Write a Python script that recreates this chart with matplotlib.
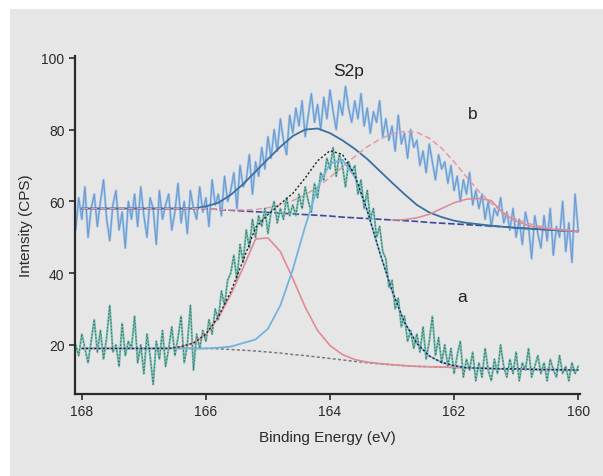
import numpy as np
import matplotlib.pyplot as plt
from matplotlib.patches import Rectangle

plt.rcParams['font.family'] = ['Liberation Sans', 'DejaVu Sans']

# measured spectra, 168.10 -> 160.00 eV in 0.05 eV steps
energy = np.round(np.arange(168.10, 159.999, -0.05), 2)

spec_b = [52, 61, 55, 64, 50, 58, 62, 53, 60, 66,
          55, 49, 59, 63, 52, 57, 47, 60, 55, 62,
          53, 64, 56, 50, 61, 58, 48, 63, 55, 59,
          62, 52, 57, 65, 54, 60, 51, 63, 58, 55,
          64, 57, 61, 53, 66, 59, 62, 56, 67, 60,
          63, 68, 58, 70, 64, 66, 73, 62, 71, 67,
          75, 69, 78, 72, 80, 74, 83, 77, 73, 84,
          79, 86, 81, 88, 78, 84, 90, 82, 87, 80,
          89, 83, 91, 85, 80, 88, 84, 92, 86, 82,
          88, 83, 90, 81, 86, 79, 85, 82, 88, 78,
          83, 77, 81, 74, 84, 76, 79, 72, 80, 75,
          77, 70, 74, 68, 76, 71, 66, 73, 69, 71,
          65, 70, 63, 67, 60, 66, 62, 68, 59, 63,
          58, 62, 55, 60, 53, 58, 56, 61, 54, 57,
          52, 58, 50, 55, 48, 57, 53, 44, 56, 51,
          47, 56, 49, 58, 45, 53, 50, 60, 46, 54,
          43, 62, 52]

spec_a = [20, 17, 23, 19, 15, 21, 27, 18, 24, 16,
          22, 31, 18, 20, 14, 26, 17, 21, 19, 28,
          15, 20, 12, 23, 17, 9, 21, 16, 24, 14,
          19, 25, 17, 22, 28, 15, 20, 31, 13, 23,
          19, 24, 21, 27, 23, 30, 27, 35, 31, 38,
          40, 45, 38, 48, 43, 52, 47, 55, 50, 56,
          53, 58, 51, 57, 60, 54, 58, 55, 61, 56,
          59, 56, 62, 58, 64, 60, 57, 65, 61, 68,
          66, 72, 69, 75, 67, 73, 70, 64, 71, 68,
          70, 62, 66, 58, 63, 55, 58, 50, 53, 46,
          44, 36, 38, 30, 33, 25, 28, 21, 24, 19,
          23, 18, 25, 16, 21, 28, 17, 22, 15, 20,
          14, 19, 12, 17, 21, 11, 16, 13, 18, 10,
          15, 11, 19, 13, 10, 16, 12, 20, 14, 11,
          16, 12, 18, 10, 15, 13, 19, 11, 14, 17,
          12, 15, 10, 16, 13, 11, 17, 12, 14, 10,
          15, 12, 14]

# fitted curves, 168.0 -> 160.0 eV in 0.2 eV steps
fit_energy = np.round(np.arange(168.0, 159.999, -0.2), 1)

base_a = [19.0] * 11 + [18.9, 18.7, 18.5, 18.3, 18.0, 17.7, 17.3, 17.0, 16.6, 16.2,
                        15.8, 15.4, 15.0, 14.7, 14.4, 14.2, 14.0, 13.9, 13.8, 13.7,
                        13.6, 13.5, 13.4, 13.3, 13.3, 13.2, 13.1, 13.1, 13.0, 13.0]
peak_a1 = [19.0] * 8 + [19.5, 20.5, 23.0, 27.5, 34.0, 41.5, 49.5, 49.8, 46.0, 38.5,
                        30.5, 24.0, 19.8, 17.3, 15.9, 15.2, 14.8, 14.5,
                        14.2, 14.0, 13.9, 13.8, 13.7,
                        13.6, 13.5, 13.4, 13.3, 13.3, 13.2, 13.1, 13.1, 13.0, 13.0]
peak_a2 = [19.0] * 11 + [19.2, 19.5, 20.5, 21.5, 24.5, 31.0, 41.0, 53.0, 63.9, 70.5,
                         71.6, 66.8, 57.3, 45.8, 35.0, 26.3, 20.4, 16.9, 15.1, 14.2,
                         13.6, 13.5, 13.4, 13.3, 13.3, 13.2, 13.1, 13.1, 13.0, 13.0]
env_a = [19.0] * 8 + [19.5, 20.5, 23.0, 27.8, 34.8, 43.5, 52.7, 56.3, 59.3, 62.2,
                      66.5, 71.3, 74.1, 73.1, 67.3, 57.5, 45.9, 35.1, 26.3, 20.4,
                      16.9, 15.1, 14.2,
                      13.6, 13.5, 13.4, 13.3, 13.3, 13.2, 13.1, 13.1, 13.0, 13.0]

base_b = [58.0] * 11 + [57.7, 57.5, 57.3, 57.1, 56.9, 56.7, 56.5, 56.3, 56.1, 55.9,
                        55.6, 55.4, 55.2, 55.0, 54.8, 54.6, 54.4, 54.1, 53.9, 53.7,
                        53.5, 53.3, 53.1, 52.9, 52.6, 52.4, 52.2, 52.0, 51.8, 51.6]
peak_b1 = [58.0] * 10 + [58.6, 59.6, 61.8, 64.8, 68.3, 71.8, 75.2, 78.2, 80.0, 80.3,
                         79.0, 77.0, 74.6, 71.8, 68.5, 65.2, 62.0, 59.0, 56.9, 55.6,
                         54.6, 54.0, 53.6, 53.2,
                         52.9, 52.6, 52.4, 52.2, 52.0, 51.8, 51.6]
peak_b2 = [58.0] * 11 + [57.7, 57.6, 57.6, 57.7, 58.2, 59.0, 60.2, 61.8, 64.0, 66.7,
                         69.6, 72.5, 75.2, 77.3, 78.8, 79.5, 79.2, 77.6, 74.8, 71.0,
                         66.8, 62.8, 59.4, 56.8, 55.0, 53.8, 53.0, 52.4, 51.9, 51.6]
b3_energy = fit_energy[25:]
peak_b3 = [54.8, 54.9, 55.4, 56.4, 58.0, 59.6, 60.6, 60.8, 60.2, 56.5,
           54.5, 53.2, 52.6, 52.2, 51.9, 51.6]

fig = plt.figure(figsize=(6.03, 4.77), dpi=100)
fig.patch.set_facecolor('#e6e6e6')
# white strips along the left and top edge of the picture
fig.add_artist(Rectangle((0, 0), 10 / 603, 1, transform=fig.transFigure,
                         facecolor='white', edgecolor='none', zorder=-5))
fig.add_artist(Rectangle((0, 1 - 10 / 477), 1, 10 / 477, transform=fig.transFigure,
                         facecolor='white', edgecolor='none', zorder=-5))
ax = fig.add_axes([0.1244, 0.1719, 0.8375, 0.7086])
ax.set_facecolor('none')

# spectrum b
ax.plot(energy, spec_b, color='#95c6ea', lw=1.7)
ax.plot(energy, spec_b, color='#4a5aa8', lw=0.7, alpha=0.45)
ax.plot(fit_energy, base_b, color='#3b4a9a', lw=1.2, ls=(0, (4, 1.5)))
ax.plot(fit_energy, peak_b1, color='#3a6fa0', lw=1.3)
ax.plot(fit_energy, peak_b2, color='#e39aa6', lw=1.1, ls=(0, (4, 2)))
ax.plot(b3_energy, peak_b3, color='#d98a98', lw=1.1)

# spectrum a
ax.plot(energy, spec_a, color='#78c4b6', lw=1.5)
ax.plot(energy, spec_a, color='#1e2626', lw=0.8, alpha=0.5, ls=(0, (1.5, 1.5)))
ax.plot(fit_energy, base_a, color='#7a7a80', lw=1.1, ls=(0, (2, 1.5)))
ax.plot(fit_energy, peak_a1, color='#e08b98', lw=1.2)
ax.plot(fit_energy, peak_a2, color='#72b4dc', lw=1.3)
ax.plot(fit_energy, env_a, color='#222222', lw=1.0, ls=(0, (1.5, 1.5)))

ax.text(163.7, 96.4, 'S2p', fontsize=12.5, ha='center', va='center', color='#222')
ax.text(161.7, 84.4, 'b', fontsize=12.5, ha='center', va='center', color='#222')
ax.text(161.87, 33.6, 'a', fontsize=12.5, ha='center', va='center', color='#222')

ax.set_xlim(168.11, 159.97)
ax.set_ylim(6.3, 100.5)
ax.set_xticks([168, 166, 164, 162, 160])
ax.set_yticks([20, 40, 60, 80, 100])
for s in ['top', 'right']:
    ax.spines[s].set_visible(False)
for s in ['left', 'bottom']:
    ax.spines[s].set_color('#2a2a2a')
    ax.spines[s].set_linewidth(1.6)
ax.tick_params(colors='#2a2a2a', labelsize=10, width=1.2, length=4)
ax.set_xlabel('Binding Energy (eV)', fontsize=11, color='#2a2a2a', labelpad=8)
ax.set_ylabel('Intensity (CPS)', fontsize=11, color='#2a2a2a', labelpad=6)

fig.savefig('out.png', dpi=100, facecolor=fig.get_facecolor())
